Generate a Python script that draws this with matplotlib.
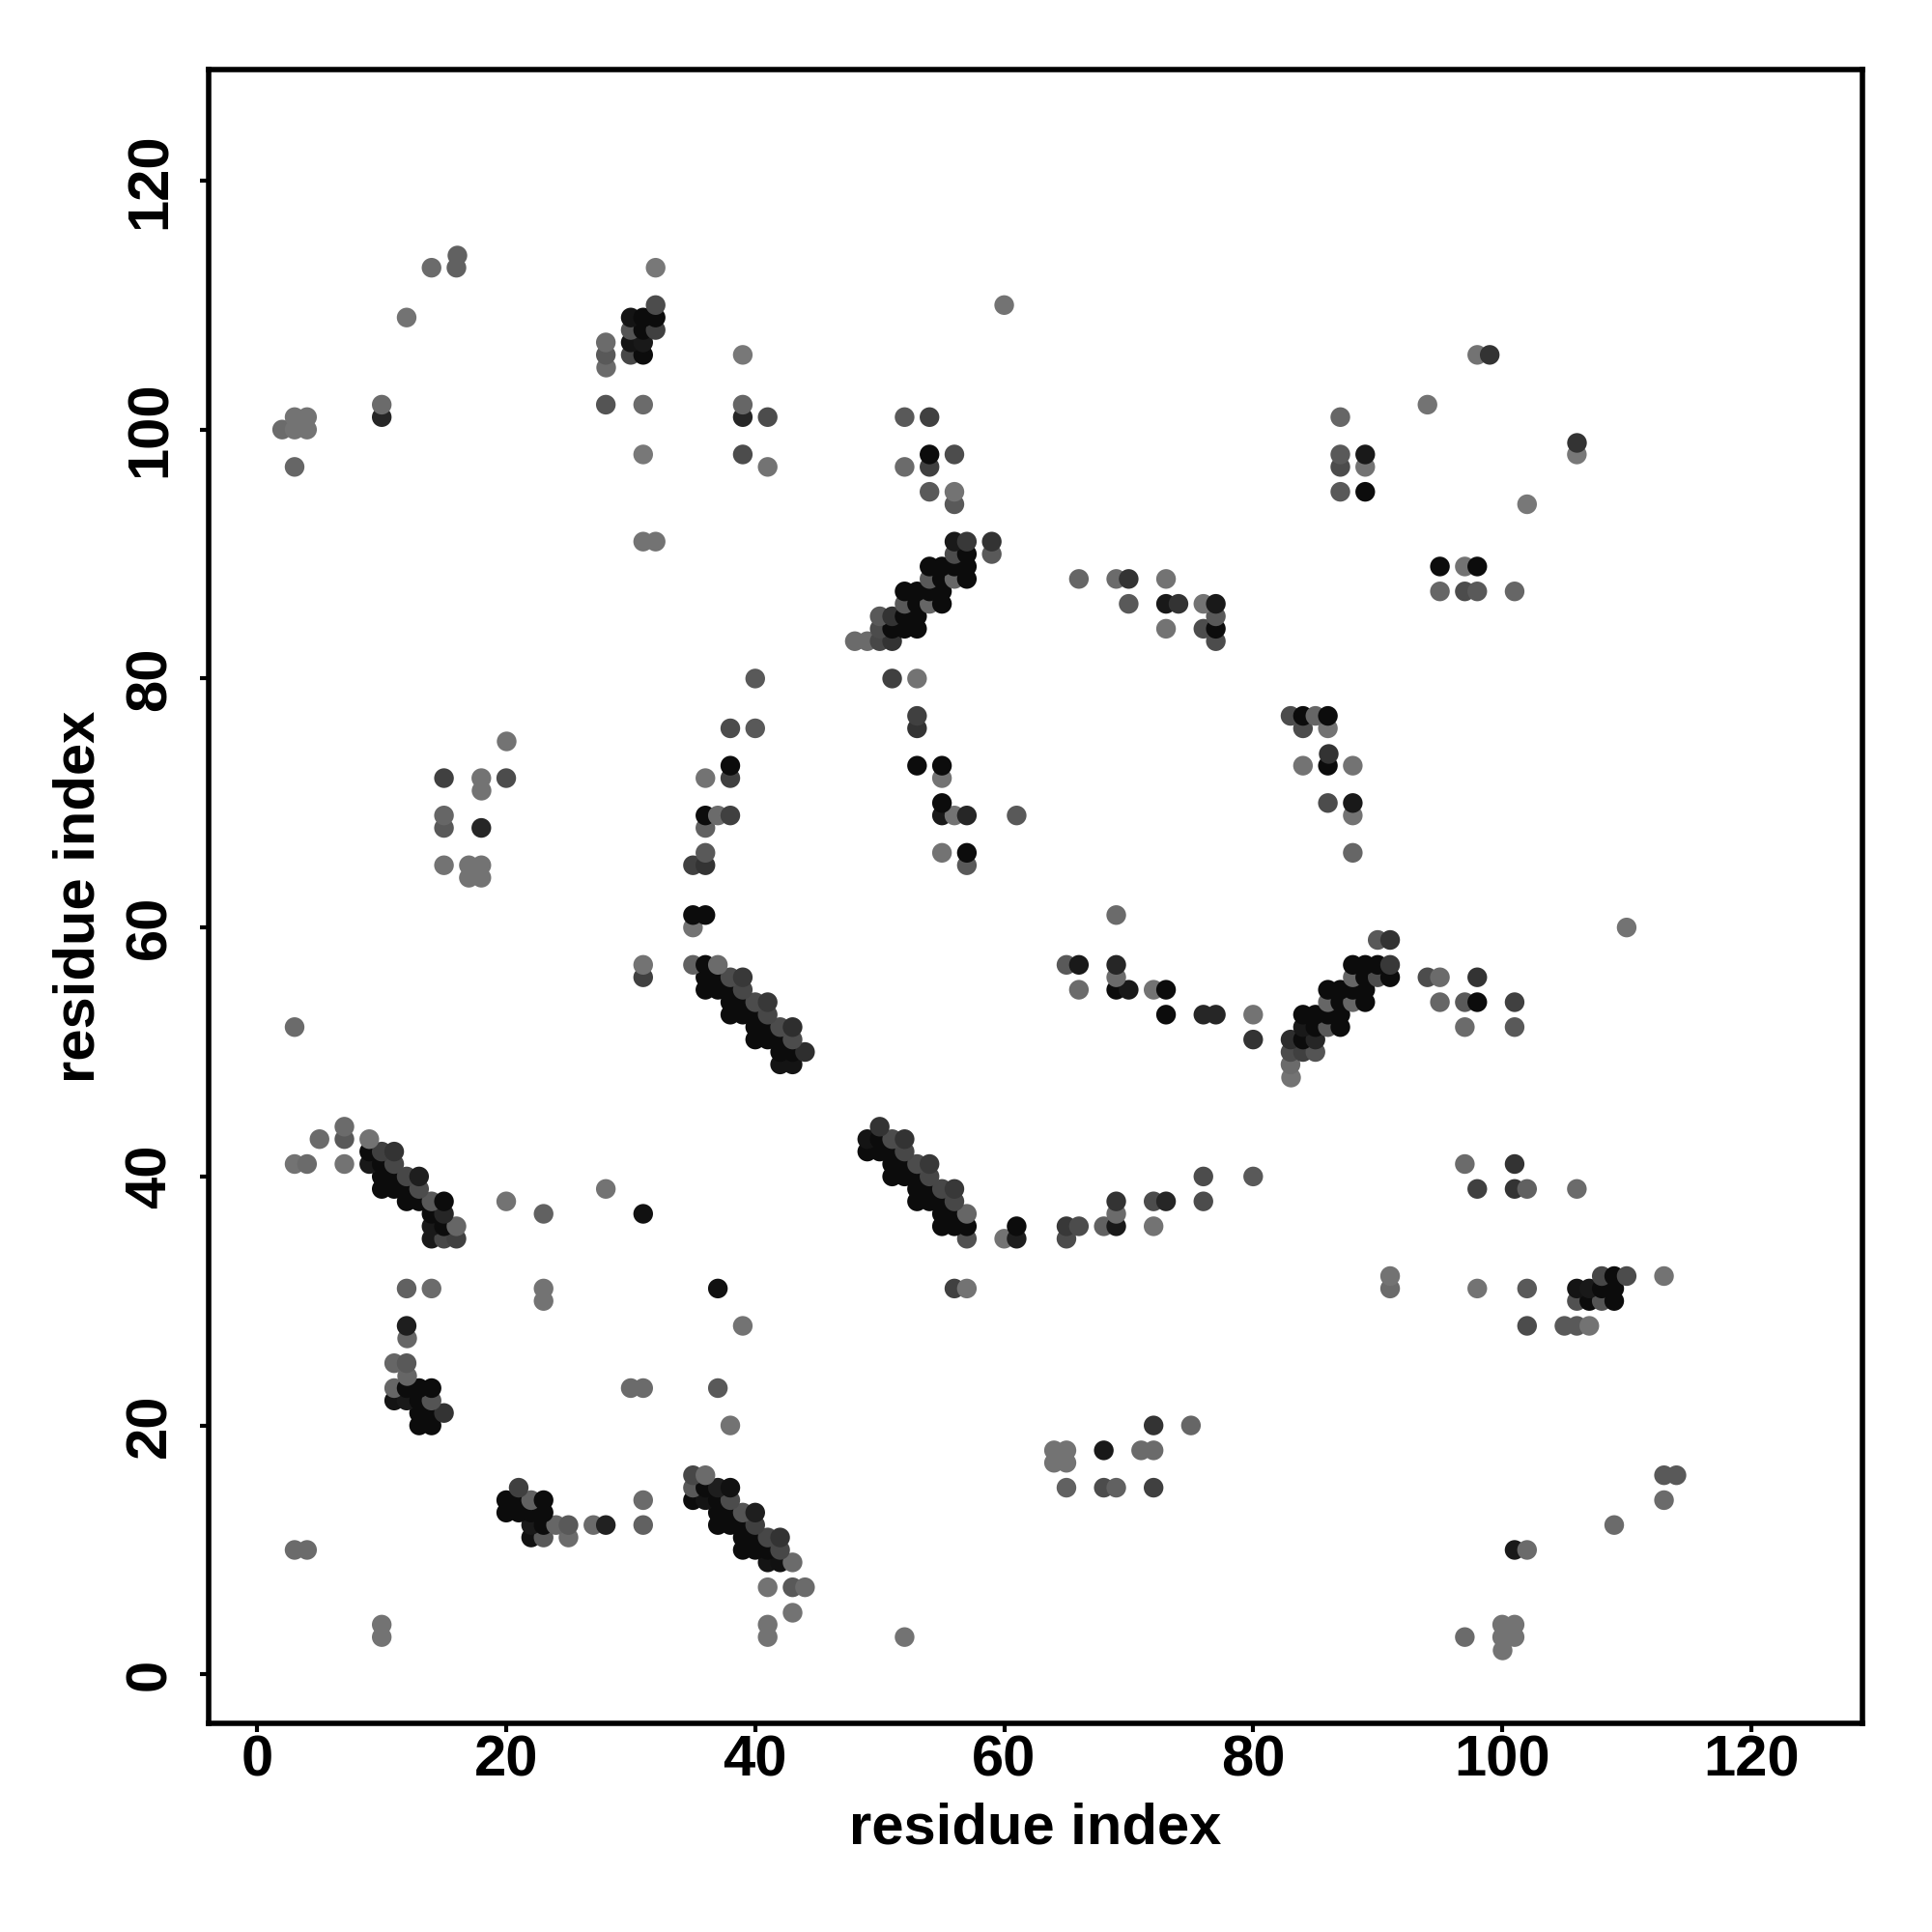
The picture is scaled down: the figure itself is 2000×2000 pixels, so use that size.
#!/usr/bin/env python3
# -*- coding: utf-8 -*-
"""Contact map: residue index vs residue index, darker = stronger contact"""

import matplotlib
matplotlib.use('Agg')
import matplotlib.pyplot as plt

plt.rcParams['font.family'] = ['Liberation Sans', 'DejaVu Sans']
plt.rcParams['font.weight'] = 'bold'

tick_values = [0, 20, 40, 60, 80, 100, 120]

# each map row y has its own residues x and gray levels g
x2, g2 = [100], [.45]
x3, g3 = [10, 41, 52, 97, 100, 101], [.45, .45, .45, .42, .45, .45]
x4, g4 = [10, 41, 100, 101], [.45, .45, .45, .45]
x5, g5 = [43], [.45]
x7, g7 = [41, 43, 44], [.45, .35, .42]
x9, g9 = [41, 42, 43], [.08, .07, .42]
x10, g10 = [3, 4, 39, 40, 41, 42, 101, 102], [.42, .42, .05, .05, .05, .28, .10, .42]
x11, g11 = [22, 23, 25, 39, 40, 41, 42], [.07, .35, .42, .05, .05, .28, .20]
x12, g12 = [22, 23, 24, 25, 27, 28, 31, 37, 38, 39, 40, 109], [.10, .05, .40, .35, .42, .13, .38, .05, .05, .05, .25, .42]
x13, g13 = [20, 21, 22, 23, 37, 38, 39, 40], [.05, .05, .05, .05, .05, .05, .33, .12]
x14, g14 = [20, 21, 22, 23, 31, 35, 36, 37, 38, 113], [.05, .05, .38, .05, .42, .05, .08, .05, .30, .42]
x15, g15 = [21, 35, 36, 37, 38, 65, 68, 69, 72], [.25, .35, .05, .12, .07, .38, .30, .38, .25]
x16, g16 = [35, 36, 113, 114], [.28, .42, .35, .35]
x17, g17 = [64, 65], [.45, .45]
x18, g18 = [64, 65, 68, 71, 72], [.45, .45, .10, .42, .42]
x20, g20 = [13, 14, 38, 72, 75], [.05, .05, .45, .20, .40]
x21, g21 = [13, 14, 15], [.05, .05, .20]
x22, g22 = [11, 12, 13, 14], [.08, .10, .05, .33]
x23, g23 = [11, 12, 13, 14, 30, 31, 37], [.40, .05, .05, .05, .42, .42, .35]
x24, g24 = [12], [.40]
x25, g25 = [11, 12], [.40, .35]
x27, g27 = [12], [.40]
x28, g28 = [12, 39, 102, 105, 106, 107], [.12, .45, .30, .35, .35, .45]
x30, g30 = [23, 106, 107, 108, 109], [.45, .32, .05, .33, .05]
x31, g31 = [12, 14, 23, 37, 56, 57, 91, 98, 102, 106, 107, 108, 109], [.38, .42, .45, .07, .25, .45, .42, .45, .35, .08, .10, .05, .05]
x32, g32 = [91, 108, 109, 110, 113], [.45, .28, .05, .30, .45]
x35, g35 = [14, 15, 16, 57, 60, 61, 65], [.10, .28, .25, .32, .45, .12, .30]
x36, g36 = [14, 15, 16, 55, 56, 57, 61, 65, 66, 68, 69, 72], [.10, .05, .40, .05, .05, .05, .05, .22, .30, .38, .10, .45]
x37, g37 = [14, 15, 23, 31, 55, 56, 57, 69], [.05, .15, .38, .07, .05, .05, .40, .42]
x38, g38 = [12, 13, 14, 15, 20, 53, 54, 55, 56, 69, 72, 73, 76], [.05, .05, .35, .05, .45, .05, .05, .05, .28, .20, .30, .15, .30]
x39, g39 = [10, 11, 12, 13, 28, 53, 54, 55, 56, 98, 101, 102, 106], [.05, .05, .05, .30, .45, .05, .05, .28, .22, .25, .20, .38, .42]
x40, g40 = [10, 11, 12, 13, 51, 52, 53, 54, 76, 80], [.05, .05, .28, .12, .05, .05, .05, .28, .30, .35]
x41, g41 = [3, 4, 7, 9, 10, 11, 51, 52, 53, 54, 97, 101], [.45, .42, .45, .10, .05, .28, .05, .05, .30, .22, .42, .20]
x42, g42 = [9, 10, 11, 49, 50, 51, 52], [.05, .25, .20, .05, .05, .05, .28]
x43, g43 = [5, 7, 9, 49, 50, 51, 52], [.42, .35, .45, .08, .05, .30, .20]
x44, g44 = [7, 50], [.42, .20]
x48, g48 = [83], [.45]
x49, g49 = [42, 43, 83], [.08, .08, .42]
x50, g50 = [42, 43, 44, 83, 84, 85], [.05, .05, .18, .30, .25, .33]
x51, g51 = [40, 41, 42, 43, 80, 83, 84, 85], [.05, .05, .05, .30, .20, .18, .05, .15]
x52, g52 = [3, 40, 41, 42, 43, 84, 85, 86, 87, 97, 101], [.42, .05, .05, .30, .18, .10, .05, .35, .05, .42, .35]
x53, g53 = [38, 39, 40, 41, 73, 76, 77, 80, 84, 85, 86, 87], [.05, .05, .05, .28, .05, .15, .15, .45, .05, .05, .05, .05]
x54, g54 = [38, 39, 40, 41, 86, 87, 88, 89, 95, 97, 98, 101], [.05, .05, .30, .22, .40, .05, .40, .05, .40, .35, .05, .25]
x55, g55 = [36, 37, 38, 39, 66, 69, 70, 72, 73, 86, 87, 88, 89], [.05, .05, .05, .28, .42, .05, .10, .45, .05, .05, .05, .05, .05]
x56, g56 = [31, 36, 37, 38, 39, 69, 88, 89, 90, 91, 94, 95, 98], [.25, .05, .05, .30, .22, .42, .40, .05, .30, .05, .30, .42, .20]
x57, g57 = [31, 35, 36, 37, 65, 66, 69, 88, 89, 90, 91], [.45, .38, .05, .42, .35, .10, .15, .05, .05, .05, .22]
x59, g59 = [90, 91], [.35, .20]
x60, g60 = [35, 110], [.45, .45]
x61, g61 = [35, 36, 69], [.05, .05, .42]
x64, g64 = [17, 18], [.45, .45]
x65, g65 = [15, 17, 18, 35, 36, 57], [.45, .45, .45, .25, .20, .35]
x66, g66 = [36, 55, 57, 88], [.35, .45, .05, .40]
x68, g68 = [15, 18, 36], [.35, .15, .38]
x69, g69 = [15, 36, 37, 38, 55, 56, 57, 61, 88], [.40, .05, .42, .25, .10, .45, .15, .35, .45]
x70, g70 = [55, 86, 88], [.05, .30, .10]
x71, g71 = [18], [.45]
x72, g72 = [15, 18, 20, 36, 38, 55], [.25, .45, .30, .45, .25, .45]
x73, g73 = [38, 53, 55, 84, 86, 88], [.05, .05, .05, .45, .05, .45]
x74, g74 = [86], [.20]
x75, g75 = [20], [.45]
x76, g76 = [38, 40, 53, 84, 86], [.30, .35, .20, .30, .45]
x77, g77 = [53, 83, 84, 85, 86], [.25, .30, .05, .40, .05]
x80, g80 = [40, 51, 53], [.35, .25, .45]
x83, g83 = [48, 49, 50, 51, 77], [.42, .42, .28, .20, .30]
x84, g84 = [50, 51, 52, 53, 73, 76, 77], [.30, .05, .05, .05, .45, .30, .05]
x85, g85 = [50, 51, 52, 53, 77], [.35, .20, .05, .05, .35]
x86, g86 = [52, 53, 54, 55, 70, 73, 74, 76, 77], [.35, .05, .40, .05, .35, .10, .20, .45, .10]
x87, g87 = [52, 53, 54, 55, 95, 97, 98, 101], [.05, .05, .05, .05, .40, .30, .35, .40]
x88, g88 = [54, 55, 56, 57, 66, 69, 70, 73], [.35, .05, .40, .05, .40, .42, .20, .45]
x89, g89 = [54, 55, 56, 57, 95, 97, 98], [.05, .05, .05, .05, .05, .45, .05]
x90, g90 = [56, 57, 59], [.30, .05, .35]
x91, g91 = [31, 32, 56, 57, 59], [.45, .45, .10, .22, .20]
x94, g94 = [56, 102], [.35, .47]
x95, g95 = [54, 56, 87, 89], [.35, .45, .35, .05]
x97, g97 = [3, 41, 52, 54, 87, 89], [.40, .45, .42, .25, .30, .45]
x98, g98 = [31, 39, 54, 56, 87, 89, 106], [.47, .30, .05, .30, .35, .10, .47]
x99, g99 = [106], [.20]
x100, g100 = [2, 3, 4], [.42, .45, .45]
x101, g101 = [3, 4, 10, 39, 41, 52, 54, 87], [.45, .45, .15, .15, .30, .35, .25, .40]
x102, g102 = [10, 28, 31, 39, 94], [.42, .33, .42, .40, .45]
x105, g105 = [28], [.42]
x106, g106 = [28, 30, 31, 39, 98, 99], [.35, .28, .05, .47, .45, .20]
x107, g107 = [28, 30, 31], [.42, .08, .10]
x108, g108 = [30, 31, 32], [.33, .05, .25]
x109, g109 = [12, 30, 31, 32], [.45, .08, .05, .05]
x110, g110 = [32, 60], [.30, .45]
x113, g113 = [14, 16, 32], [.42, .38, .47]
x114, g114 = [16], [.38]

rows = [
    (2, x2, g2), (3, x3, g3), (4, x4, g4), (5, x5, g5), (7, x7, g7), (9, x9, g9),
    (10, x10, g10), (11, x11, g11), (12, x12, g12), (13, x13, g13), (14, x14, g14),
    (15, x15, g15), (16, x16, g16), (17, x17, g17), (18, x18, g18), (20, x20, g20),
    (21, x21, g21), (22, x22, g22), (23, x23, g23), (24, x24, g24), (25, x25, g25),
    (27, x27, g27), (28, x28, g28), (30, x30, g30), (31, x31, g31), (32, x32, g32),
    (35, x35, g35), (36, x36, g36), (37, x37, g37), (38, x38, g38), (39, x39, g39),
    (40, x40, g40), (41, x41, g41), (42, x42, g42), (43, x43, g43), (44, x44, g44),
    (48, x48, g48), (49, x49, g49), (50, x50, g50), (51, x51, g51), (52, x52, g52),
    (53, x53, g53), (54, x54, g54), (55, x55, g55), (56, x56, g56), (57, x57, g57),
    (59, x59, g59), (60, x60, g60), (61, x61, g61), (64, x64, g64), (65, x65, g65),
    (66, x66, g66), (68, x68, g68), (69, x69, g69), (70, x70, g70), (71, x71, g71),
    (72, x72, g72), (73, x73, g73), (74, x74, g74), (75, x75, g75), (76, x76, g76),
    (77, x77, g77), (80, x80, g80), (83, x83, g83), (84, x84, g84), (85, x85, g85),
    (86, x86, g86), (87, x87, g87), (88, x88, g88), (89, x89, g89), (90, x90, g90),
    (91, x91, g91), (94, x94, g94), (95, x95, g95), (97, x97, g97), (98, x98, g98),
    (99, x99, g99), (100, x100, g100), (101, x101, g101), (102, x102, g102),
    (105, x105, g105), (106, x106, g106), (107, x107, g107), (108, x108, g108),
    (109, x109, g109), (110, x110, g110), (113, x113, g113), (114, x114, g114),
]

fig = plt.figure(figsize=(20, 20), dpi=100)
ax = fig.add_axes([216.3 / 2000, 1 - 1784 / 2000, 1711.7 / 2000, 1712 / 2000])

# lower rows first so upper rows sit on top of them
for y, xs, grays in rows:
    ax.scatter(xs, [y] * len(xs), c=grays, cmap='gray', vmin=0, vmax=1,
               s=215, linewidths=0, zorder=3)

ax.set_xlim(-3.88, 128.94)
ax.set_ylim(-3.93, 128.92)
ax.set_xticks(tick_values)
ax.set_yticks(tick_values)
ax.tick_params(axis='x', length=6.2, width=3, labelsize=43, pad=2)
ax.tick_params(axis='y', length=6.2, width=3, labelsize=43, pad=17.5)
for lab in ax.get_yticklabels():
    lab.set_rotation(90)
    lab.set_verticalalignment('center')
for side in ax.spines.values():
    side.set_linewidth(4)

ax.set_xlabel('residue index', fontsize=43, fontweight='bold', labelpad=10.7)
ax.set_ylabel('residue index', fontsize=43, fontweight='bold', labelpad=13.6)

plt.savefig('out.png', dpi=100)
